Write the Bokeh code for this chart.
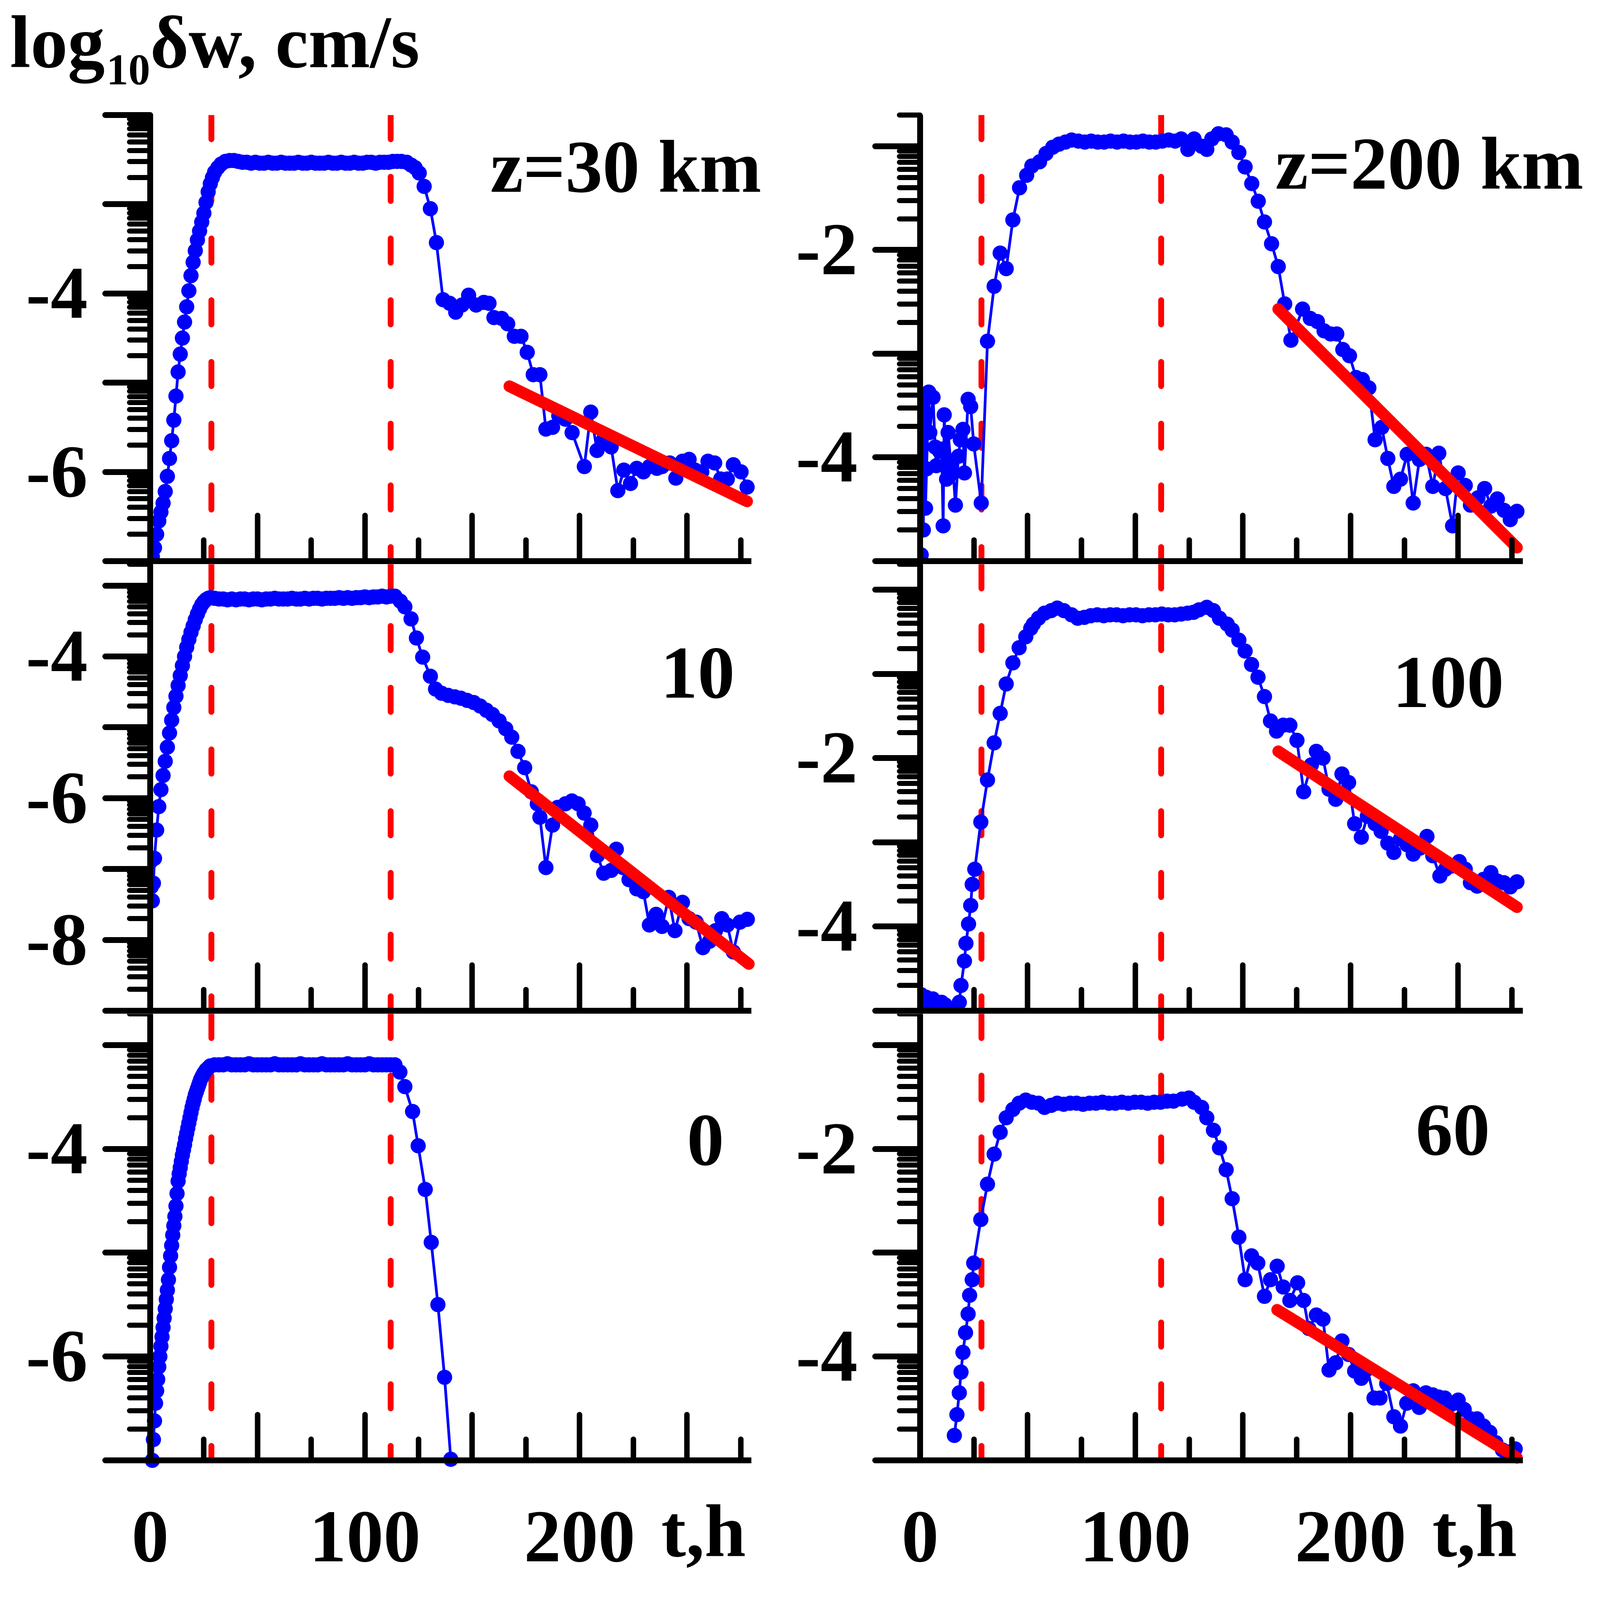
import math

from bokeh.embed import file_html
from bokeh.layouts import column, row
from bokeh.models import FixedTicker, Label, Range1d
from bokeh.plotting import figure
from bokeh.resources import INLINE

# t in hours, w = log10(dw) in cm/s

# z = 30 km
t_z30 = [0, 1, 2, 3, 4, 5, 6, 7, 8, 9, 10, 11, 12, 13, 14, 15, 16, 17, 18, 19, 20,
         21, 22, 23, 24, 25, 26, 27, 28, 29, 30, 31.5, 33, 35, 37,
         39, 41, 43, 45, 47, 49, 51, 53, 55, 57, 59, 61, 63, 65, 67, 69, 71, 73, 75, 77,
         79, 81, 83, 85, 87, 89, 91, 93, 95, 97, 99, 101, 103, 105, 107, 109, 111, 113, 115, 117,
         119.5, 121.5, 123.4, 125.3, 127.6, 130.5, 133.3, 136.4, 139.5, 142.3,
         145.2, 148.3, 151.8, 155.4, 157.8, 160.1, 163.7, 166.5, 169.6, 172.7,
         175.6, 178.4, 181.5, 184.3, 187.4, 190.3, 193.4, 196.5, 202.2, 205.2,
         208.1, 211.1, 214.7, 217.8, 220.6, 223.7, 226.6, 229.7, 232.5, 236.0,
         238.4, 242.0, 244.8, 247.9, 251.0, 253.8, 256.9, 259.8, 262.9, 265.7,
         268.8, 271.6, 275.2, 278.0]
w_z30 = [-7.0, -6.95, -6.85, -6.7, -6.55, -6.45, -6.35, -6.22, -6.05, -5.85, -5.65,
         -5.42, -5.15, -4.88, -4.68, -4.5, -4.32, -4.15, -3.97, -3.8, -3.65,
         -3.52, -3.4, -3.3, -3.2, -3.1, -2.98, -2.86, -2.77, -2.7, -2.64, -2.59, -2.55, -2.52, -2.51,
         -2.51, -2.52, -2.53, -2.53, -2.54, -2.53, -2.54, -2.54, -2.53, -2.54,
         -2.54, -2.53, -2.54, -2.54, -2.54, -2.53, -2.54, -2.54, -2.53, -2.54,
         -2.54, -2.54, -2.53, -2.54, -2.54, -2.53, -2.54, -2.54, -2.53, -2.54,
         -2.54, -2.53, -2.53, -2.54, -2.53, -2.53, -2.53, -2.52, -2.52, -2.52,
         -2.53, -2.56, -2.59, -2.65, -2.80, -3.05, -3.43, -4.07, -4.11, -4.21,
         -4.13, -4.02, -4.13, -4.10, -4.11, -4.27, -4.28, -4.34, -4.48, -4.48,
         -4.66, -4.91, -4.91, -5.52, -5.50, -5.37, -5.41, -5.56, -5.94, -5.33,
         -5.76, -5.64, -5.72, -6.21, -5.98, -6.13, -5.96, -6.00, -5.94, -5.96,
         -5.94, -5.90, -6.07, -5.88, -5.86, -5.98, -6.00, -5.88, -5.90, -6.08,
         -6.08, -5.92, -6.00, -6.17]
fit_t_z30 = [167.3, 278.0]
fit_w_z30 = [-5.04, -6.33]

# z = 10 km
t_z10 = [0, 0.5, 1, 1.5, 2, 3, 4, 5, 6, 7, 8, 9, 10, 11, 12, 13, 14, 15, 16, 17, 18,
         19, 20, 21, 22, 23, 24, 25, 26, 27, 28,
         30, 32, 34, 36, 38, 40, 42, 44, 46, 48, 50, 52, 54, 56, 58, 60, 62, 64, 66, 68,
         70, 72, 74, 76, 78, 80, 82, 84, 86, 88, 90, 92, 94, 96, 98, 100, 102, 104, 106,
         108, 110, 112, 114,
         116.5, 118.6, 121.5, 124.0, 126.9, 130.5, 132.9, 135.7, 138.8, 141.9,
         144.7, 147.6, 150.7, 153.7, 156.6, 159.4, 162.5, 165.6, 168.4, 171.3,
         174.4, 177.5, 180.3, 181.5, 184.3, 187.4, 189.8, 193.4, 196.4, 199.3,
         202.1, 205.2, 208.3, 211.2, 214.7, 217.1, 220.2, 223.0, 226.6, 229.7,
         232.5, 235.6, 238.4, 241.5, 244.4, 247.9, 251.0, 254.3, 257.4, 260.5,
         263.3, 266.2, 268.8, 271.6, 274.7, 278.1]
w_z10 = [-6.9, -7.25, -7.45, -7.2, -6.85, -6.45, -6.12, -5.88, -5.68, -5.48,
         -5.28, -5.08, -4.9, -4.72, -4.56, -4.41, -4.27, -4.13, -4.0, -3.87,
         -3.76, -3.66, -3.57, -3.48, -3.4, -3.33, -3.27, -3.23, -3.2, -3.18, -3.17,
         -3.18, -3.19, -3.19, -3.20, -3.19, -3.20, -3.19, -3.19, -3.20, -3.19,
         -3.19, -3.20, -3.19, -3.19, -3.18, -3.19, -3.19, -3.19, -3.18, -3.19,
         -3.19, -3.18, -3.19, -3.18, -3.18, -3.19, -3.18, -3.18, -3.18, -3.17,
         -3.18, -3.17, -3.18, -3.17, -3.17, -3.16, -3.17, -3.16, -3.16, -3.15,
         -3.16, -3.15, -3.15,
         -3.22, -3.30, -3.47, -3.74, -4.01, -4.28, -4.46, -4.52, -4.55, -4.57,
         -4.59, -4.62, -4.65, -4.70, -4.76, -4.82, -4.91, -5.02, -5.14, -5.34,
         -5.57, -5.91, -6.08, -6.27, -6.98, -6.38, -6.13, -6.08, -6.04, -6.08,
         -6.21, -6.38, -6.81, -7.06, -7.02, -6.72, -6.98, -7.15, -7.28, -7.32,
         -7.79, -7.64, -7.81, -7.40, -7.87, -7.47, -7.70, -7.75, -8.11, -8.02,
         -7.87, -7.70, -7.79, -8.17, -7.75, -7.71]
fit_t_z10 = [167.3, 278.8]
fit_w_z10 = [-5.69, -8.34]

# z = 0
t_z0 = [1, 1.5, 2, 2.5, 3, 3.5, 4, 4.5, 5, 5.5, 6, 6.5, 7, 7.5, 8, 8.5, 9, 9.5, 10, 10.5,
        11, 11.5, 12, 12.5, 13, 13.5, 14, 14.5, 15, 15.5, 16, 16.5, 17, 17.5, 18, 18.5,
        19, 19.5, 20, 20.5, 21, 21.5, 22, 22.5, 23, 23.5, 24, 24.5, 25, 26, 27, 28,
        30, 32, 34, 36, 38, 40, 42, 44, 46, 48, 50, 52, 54, 56, 58, 60, 62, 64, 66, 68,
        70, 72, 74, 76, 78, 80, 82, 84, 86, 88, 90, 92, 94, 96, 98, 100, 102, 104, 106,
        108, 110, 112, 114,
        116.3, 118.6, 122.2, 124.8, 128.1, 130.9, 134.0, 137.1, 140.0]
w_z0 = [-7.0, -6.8, -6.62, -6.45, -6.33, -6.22, -6.1, -6.0, -5.9, -5.81,
        -5.72, -5.63, -5.54, -5.45, -5.36, -5.26, -5.14, -5.03, -4.93, -4.83,
        -4.74, -4.65, -4.55, -4.43, -4.31, -4.24, -4.18, -4.12, -4.06, -4.01,
        -3.96, -3.9, -3.85, -3.8, -3.75, -3.7, -3.65, -3.6, -3.56, -3.52,
        -3.48, -3.45, -3.42, -3.39, -3.36, -3.33, -3.31, -3.29, -3.27, -3.24, -3.22, -3.2,
        -3.19, -3.19, -3.19, -3.18, -3.19, -3.19, -3.19, -3.19, -3.18, -3.19,
        -3.19, -3.19, -3.19, -3.19, -3.18, -3.19, -3.19, -3.19, -3.19, -3.19,
        -3.18, -3.19, -3.19, -3.19, -3.19, -3.18, -3.19, -3.19, -3.19, -3.19,
        -3.19, -3.18, -3.19, -3.19, -3.19, -3.19, -3.18, -3.19, -3.19, -3.19,
        -3.19, -3.19, -3.19,
        -3.26, -3.40, -3.64, -3.97, -4.39, -4.90, -5.50, -6.20, -6.99]

# z = 200 km
t_z200 = [0, 0.5, 1, 1.5, 2, 2.5, 3, 4, 4.5, 6, 7, 7.5, 9, 10, 10.7, 11.2, 12.3, 13, 14.2,
          15.4, 16.4, 17.8, 18.7, 19.9, 20.6, 22.3, 23.5, 24.9, 28.4,
          31.3, 34.4, 37.2, 40.0, 43.1, 46.2, 49.5, 51.9, 55.5, 58.5, 61.6, 64.5, 67.5, 70.4,
          73.5, 76.5, 79.5, 82.5, 85.5, 88.5, 91.5, 94.5, 97.5, 100.5, 103.5, 106.5,
          109.5, 112.5, 115.5, 118.5,
          121.3, 124.4, 127.3, 130.8, 133.2, 135.5, 138.6, 142.2, 145.0, 148.1,
          151.0, 154.1, 157.1, 160.0, 163.3, 166.4, 169.4, 172.3, 177.7, 181.3,
          184.6, 187.7, 190.8, 193.6, 196.4, 199.5, 202.6, 205.5, 208.5, 211.4,
          214.5, 217.3, 220.1, 223.2, 226.3, 229.1, 232.0, 235.1, 238.2, 241.0,
          244.1, 247.4, 250.0, 253.3, 255.7, 259.2, 262.3, 265.2, 268.2, 271.3,
          274.2, 277.3]
w_z200 = [-3.47, -4.94, -3.66, -4.70, -3.56, -4.49, -4.11, -3.37, -3.76, -3.42,
          -3.90, -4.08, -3.94, -3.92, -4.66, -3.59, -4.21, -3.76, -4.04, -4.15,
          -4.46, -3.99, -3.83, -3.73, -4.15, -3.44, -3.51, -3.87, -4.44,
          -2.88, -2.35, -2.03, -2.18, -1.71, -1.40, -1.28, -1.19, -1.15, -1.07,
          -1.01, -0.98, -0.96, -0.94,
          -0.95, -0.96, -0.95, -0.96, -0.96, -0.95, -0.96, -0.95, -0.96, -0.96,
          -0.95, -0.96, -0.96, -0.95, -0.94, -0.95,
          -0.93, -1.03, -0.93, -1.00, -1.03, -0.93, -0.88, -0.89, -0.96, -1.06,
          -1.20, -1.36, -1.53, -1.73, -1.94, -2.16, -2.52, -2.87, -2.57, -2.66,
          -2.69, -2.78, -2.81, -2.81, -2.96, -3.02, -3.23, -3.25, -3.33, -3.83,
          -3.71, -4.01, -4.28, -4.21, -3.97, -4.44, -4.02, -3.97, -4.28, -3.96,
          -4.30, -4.66, -4.15, -4.27, -4.46, -4.39, -4.30, -4.47, -4.40, -4.51,
          -4.60, -4.52]
fit_t_z200 = [166.4, 277.3]
fit_w_z200 = [-2.57, -4.87]

# z = 100 km
t_z100 = [0.5, 1.7, 2.8, 4.5, 5.9, 7.6, 10.0, 11.6, 13.5, 16.4, 18.2, 19.0, 20.6, 21.3,
          22.5, 23.5, 24.2, 25.4, 28.2, 31.3, 34.4, 37.2, 40.0, 43.1, 46.0, 49.1, 51.4,
          52.6, 55.0, 57.8, 60.9, 63.7, 66.8, 70.4, 73.2, 76.3,
          79.3, 82.3, 85.3, 88.3, 91.3, 94.3, 97.3, 100.3, 103.3, 106.3, 109.3, 112.3,
          115.3, 118.3, 121.3, 124.3, 127.0,
          129.6, 133.2, 136.3, 139.1, 142.7, 145.0, 148.1, 151.0, 154.0, 157.0,
          160.0, 162.8, 165.6, 168.7, 171.8, 175.1, 178.2, 181.8, 184.1, 187.2,
          190.0, 193.1, 196.0, 199.1, 201.9, 205.0, 207.8, 211.4, 214.2, 217.3,
          220.1, 223.2, 226.3, 229.1, 232.2, 235.5, 238.2, 241.5, 244.1, 247.4,
          250.5, 253.3, 255.7, 258.8, 261.8, 265.2, 268.2, 271.3, 274.2, 277.3]
w_z100 = [-4.81, -4.92, -4.84, -4.92, -4.86, -4.99, -4.90, -4.93, -5.02, -5.00,
          -4.90, -4.70, -4.41, -4.20, -3.97, -3.75, -3.50, -3.32, -2.76, -2.26,
          -1.82, -1.47, -1.12, -0.87, -0.69, -0.56, -0.46, -0.41, -0.34, -0.28,
          -0.25, -0.22, -0.25, -0.30, -0.34, -0.33,
          -0.31, -0.30, -0.31, -0.30, -0.30, -0.31, -0.30, -0.30, -0.31, -0.30,
          -0.30, -0.29, -0.30, -0.30, -0.29, -0.28, -0.27,
          -0.24, -0.21, -0.25, -0.34, -0.41, -0.48, -0.60, -0.73, -0.89, -1.04,
          -1.27, -1.56, -1.68, -1.61, -1.61, -1.79, -2.40, -2.08, -1.92, -2.00,
          -2.37, -2.49, -2.19, -2.29, -2.78, -2.94, -2.69, -2.78, -2.87, -3.01,
          -3.12, -2.96, -3.03, -3.14, -3.07, -2.93, -3.16, -3.40, -3.32, -3.28,
          -3.23, -3.32, -3.48, -3.52, -3.44, -3.36, -3.46, -3.48, -3.53, -3.47]
fit_t_z100 = [166.4, 277.3]
fit_w_z100 = [-1.92, -3.77]

# z = 60 km
t_z60 = [15.9, 17.1, 18.2, 19.0, 19.9, 21.1, 22.3, 23.0, 24.2, 24.9, 28.2, 31.3, 34.4,
         37.2, 40.0, 43.1, 46.0, 49.1, 51.9, 55.0, 57.8, 60.9, 63.7,
         66.7, 69.7, 72.7, 75.7, 78.7, 81.7, 84.7, 87.7, 90.7, 93.7, 96.7, 99.7, 102.7,
         105.7, 108.7, 111.7, 114.7, 117.7, 121.7,
         124.9, 127.3, 130.8, 133.2, 136.3, 139.1, 142.2, 145.0, 148.1, 151.0,
         154.0, 156.9, 160.0, 162.8, 165.9, 168.7, 171.8, 175.4, 178.2, 180.6,
         184.1, 187.2, 190.0, 193.1, 196.0, 199.1, 201.9, 205.0, 207.8, 210.9,
         213.7, 216.8, 220.1, 223.2, 226.1, 229.1, 231.9, 235.0, 238.2, 241.0,
         243.8, 246.9, 250.0, 252.8, 255.9, 258.8, 261.8, 264.7, 267.5, 270.6,
         273.5, 276.5]
w_z60 = [-4.76, -4.56, -4.35, -4.15, -3.96, -3.77, -3.59, -3.41, -3.26, -3.10,
         -2.68, -2.34, -2.05, -1.84, -1.70, -1.62, -1.56, -1.53, -1.55, -1.56,
         -1.60, -1.58, -1.56,
         -1.57, -1.56, -1.56, -1.57, -1.56, -1.56, -1.55, -1.56, -1.56, -1.55,
         -1.56, -1.55, -1.55, -1.56, -1.55, -1.55, -1.54, -1.54, -1.52,
         -1.51, -1.55, -1.60, -1.70, -1.82, -1.99, -2.20, -2.48, -2.85, -3.26,
         -3.03, -3.10, -3.42, -3.26, -3.13, -3.33, -3.46, -3.29, -3.46, -3.73,
         -3.60, -3.64, -4.13, -4.06, -3.85, -3.98, -4.14, -4.21, -4.12, -4.40,
         -4.40, -4.26, -4.58, -4.67, -4.45, -4.33, -4.49, -4.35, -4.37, -4.39,
         -4.40, -4.46, -4.42, -4.51, -4.60, -4.60, -4.67, -4.73, -4.83, -4.90,
         -4.92, -4.89]
fit_t_z60 = [165.9, 277.3]
fit_w_z60 = [-3.55, -4.975]

# times of the two vertical dashed markers
event_t = [28.5, 112.0]

x_major = [0, 50, 100, 150, 200, 250]
x_minor = [25, 75, 125, 175, 225, 275]
x_labels = [0, 100, 200]
T_MAX = 280

FONT = "Liberation Serif"
FS = "190px"
MID = 64            # px between the middle of a 190px text line and its baseline

# layout in css px: [left column, right column]
BORDER_L = [384, 335]
FRAME_W = [1594, 1719]
X_END = [290, 312]
BORDER_R = [42, 6]
ROW_FRAME_H = [1142, 1143, 1143]
ROW_TOP = [8, 0, 0]
ROW_BOTTOM = [8, 8, 2]
LABEL_STRIP = 296    # room under the last row for the t labels
HEAD_H = 286
TOTAL_W = sum(BORDER_L) + sum(FRAME_W) + sum(BORDER_R)


def y_ticks(lo, hi):
    major = [n for n in range(math.ceil(lo - 1e-9), math.floor(hi + 1e-9) + 1)]
    minor = []
    for n in range(math.floor(lo), math.ceil(hi) + 1):
        for k in range(2, 10):
            v = n + math.log10(k)
            if lo - 1e-6 <= v <= hi + 1e-6:
                minor.append(v)
    return major, minor


def make_panel(t, w, fit_t, fit_w, ylim, ylabels, name, name_t, name_w, col, rowi):
    bottom_row = rowi == 2
    ylo, yhi = ylim
    fh = ROW_FRAME_H[rowi]
    pxu = fh / (yhi - ylo)            # px per decade
    pxh = FRAME_W[col] / X_END[col]   # px per hour

    x_start, fw, bl = 0, FRAME_W[col], BORDER_L[col]
    y_start = ylo
    if bottom_row:
        # frame covers the label areas too; axes are pinned at t=0 / ylo
        x_start = -BORDER_L[col] / pxh
        fw += BORDER_L[col]
        bl = 0
        y_start = ylo - LABEL_STRIP / pxu
        fh += LABEL_STRIP

    p = figure(
        frame_width=fw,
        frame_height=fh,
        x_range=Range1d(x_start, X_END[col]),
        y_range=Range1d(y_start, yhi),
        min_border_left=bl,
        min_border_right=BORDER_R[col],
        min_border_top=ROW_TOP[rowi],
        min_border_bottom=ROW_BOTTOM[rowi],
        output_backend="svg",
        toolbar_location=None,
    )
    p.outline_line_color = None
    p.xgrid.visible = False
    p.ygrid.visible = False
    p.background_fill_color = "white"
    p.border_fill_color = "white"

    # y axis with decade ticks and log-spaced minor ticks
    major, minor = y_ticks(ylo, yhi)
    ya = p.yaxis[0]
    ya.bounds = (ylo, yhi)
    ya.ticker = FixedTicker(ticks=major, minor_ticks=minor)
    ya.major_label_overrides = {m: (str(m) if m in ylabels else "") for m in major}
    ya.axis_line_width = 15
    ya.major_tick_line_width = 15
    ya.minor_tick_line_width = 13
    ya.major_tick_line_cap = "round"
    ya.minor_tick_line_cap = "round"
    ya.major_tick_out = 115
    ya.major_tick_in = 0
    ya.minor_tick_out = 53
    ya.minor_tick_in = 0
    ya.major_label_standoff = 45
    ya.major_label_text_font = FONT
    ya.major_label_text_font_style = "bold"
    ya.major_label_text_font_size = FS
    ya.major_label_text_color = "black"

    xa = p.xaxis[0]
    xa.bounds = (0, T_MAX)
    xa.ticker = FixedTicker(ticks=x_major, minor_ticks=x_minor)
    xa.major_label_overrides = {
        m: (str(m) if (bottom_row and m in x_labels) else "") for m in x_major
    }
    xa.axis_line_width = 15
    xa.major_tick_line_width = 14
    xa.minor_tick_line_width = 14
    xa.major_tick_line_cap = "round"
    xa.minor_tick_line_cap = "round"
    xa.major_tick_in = 117
    xa.major_tick_out = 0
    xa.minor_tick_in = 54
    xa.minor_tick_out = 0
    xa.major_label_text_font = FONT
    xa.major_label_text_font_style = "bold"
    xa.major_label_text_color = "black"
    if bottom_row:
        ya.fixed_location = 0
        xa.fixed_location = ylo
        xa.major_label_standoff = 133
        xa.major_label_text_font_size = FS
    else:
        xa.major_label_standoff = 0
        xa.major_label_text_font_size = "1px"

    for te in event_t:
        p.line([te, te], [yhi, ylo], line_color="red", line_width=15,
               line_dash="62 96", line_cap="round")

    p.line(t, w, line_color="blue", line_width=7)
    p.scatter(t, w, size=39, fill_color="blue", line_color=None)

    if fit_t:
        p.line(fit_t, fit_w, line_color="red", line_width=30, line_cap="round")

    p.add_layout(Label(x=name_t, y=name_w + MID / pxu, text=name, text_align="center",
                       text_baseline="middle", text_font=FONT,
                       text_font_style="bold", text_font_size=FS,
                       text_color="black"))

    if bottom_row:
        p.add_layout(Label(x=238, y=ylo + (MID - 245) / pxu, text="t,h",
                           text_align="left", text_baseline="middle", text_font=FONT,
                           text_font_style="bold", text_font_size=FS,
                           text_color="black"))
    return p


LOG2 = math.log10(2)

p30 = make_panel(t_z30, w_z30, fit_t_z30, fit_w_z30, (-7, -2), [-4, -6],
                 "z=30 km", 221.5, -2.86, 0, 0)
p10 = make_panel(t_z10, w_z10, fit_t_z10, fit_w_z10, (-9, -3 + LOG2), [-4, -6, -8],
                 "10", 255, -4.59, 0, 1)
p0 = make_panel(t_z0, w_z0, None, None, (-7, -3 + LOG2), [-4, -6],
                "0", 258.6, -4.16, 0, 2)
p200 = make_panel(t_z200, w_z200, fit_t_z200, fit_w_z200, (-5, -1 + LOG2), [-2, -4],
                  "z=200 km", 236.6, -1.41, 1, 0)
p100 = make_panel(t_z100, w_z100, fit_t_z100, fit_w_z100, (-5, LOG2), [-2, -4],
                  "100", 245.4, -1.40, 1, 1)
p60 = make_panel(t_z60, w_z60, fit_t_z60, fit_w_z60, (-5, -1 + LOG2), [-2, -4],
                 "60", 247.5, -2.06, 1, 2)

# strip on top for the quantity name: log, subscript 10, rest (pixel coords,
# baseline kept low enough that the whole text box stays inside the strip)
head = figure(frame_width=TOTAL_W, frame_height=HEAD_H, x_range=Range1d(0, TOTAL_W),
              y_range=Range1d(0, HEAD_H), x_axis_location=None, y_axis_location=None,
              min_border=0, output_backend="svg", toolbar_location=None)
head.outline_line_color = None
head.grid.visible = False
for txt, xt, yb, fs, mid in [("log", 25, 115, FS, MID),
                             ("10", 272, 70, "112px", 38),
                             ("δw, cm/s", 384, 115, FS, MID)]:
    head.add_layout(Label(x=xt, y=yb + mid, text=txt, text_align="left",
                          text_baseline="middle", text_font=FONT,
                          text_font_style="bold", text_font_size=fs,
                          text_color="black"))

layout = column(head, row(p30, p200), row(p10, p100), row(p0, p60))

open("out.html", "w").write(file_html(layout, INLINE))
